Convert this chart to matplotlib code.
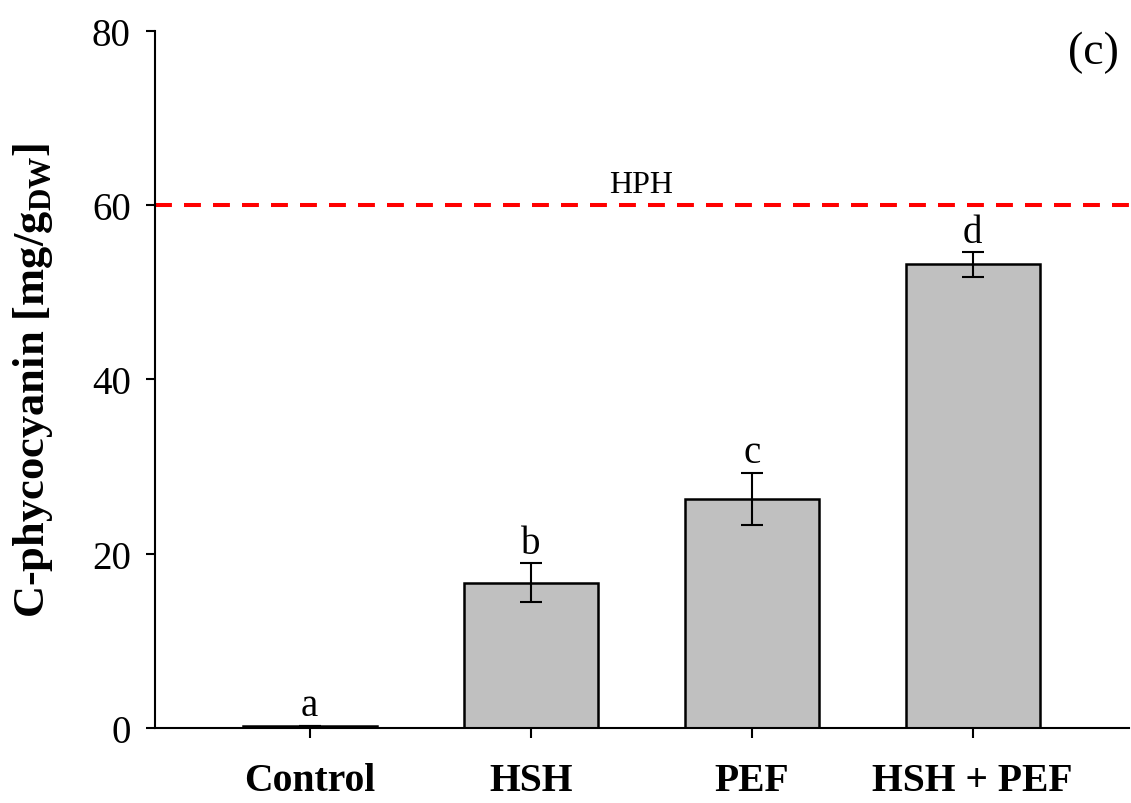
import matplotlib
matplotlib.use("Agg")
import matplotlib.pyplot as plt

# 数据
groups = ["Control", "HSH", "PEF", "HSH + PEF"]
values = [0.25, 16.7, 26.3, 53.2]
errors = [0.05, 2.2, 3.0, 1.4]
letters = ["a", "b", "c", "d"]
hph_level = 60

plt.rcParams["font.family"] = ["Liberation Serif", "DejaVu Serif"]
plt.rcParams["mathtext.fontset"] = "custom"
plt.rcParams["mathtext.rm"] = "Liberation Serif"
plt.rcParams["mathtext.bf"] = "Liberation Serif:bold"

fig = plt.figure(figsize=(11.31, 8.04), dpi=100)
ax = fig.add_axes([0.137, 0.093, 0.861, 0.8675])

x = range(len(groups))
ax.bar(x, values, width=0.606, color="#c0c0c0", edgecolor="black",
       linewidth=1.8, zorder=2)
ax.errorbar(x, values, yerr=errors, fmt="none", ecolor="black",
            elinewidth=1.5, capsize=8, capthick=1.5, zorder=3)

# 显著性字母
for i, (v, e, s) in enumerate(zip(values, errors, letters)):
    ax.annotate(s, (i, v + e), xytext=(0, 1), textcoords="offset points",
                ha="center", va="bottom", fontsize=28)

# HPH 参考线
ax.axhline(hph_level, color="red", linestyle=(0, (4.2, 3)), linewidth=2.9,
           zorder=1)
ax.text(1.5, hph_level + 0.7, "HPH", ha="center", va="bottom", fontsize=23)

ax.text(0.99, 0.9695, "(c)", transform=ax.transAxes, ha="right",
        va="center", fontsize=33)

ax.set_xlim(-0.70, 3.706)
ax.set_ylim(0, 80)
ax.set_yticks([0, 20, 40, 60, 80])
ax.set_xticks(list(x))
ax.set_xticklabels(groups, fontweight="bold", fontsize=28.5)

for lab in ax.get_yticklabels():
    lab.set_fontsize(28)

ax.tick_params(axis="y", direction="out", length=6.5, width=1.5, pad=11)
ax.tick_params(axis="x", direction="out", length=7, width=1.5, pad=17)

ax.spines["top"].set_visible(False)
ax.spines["right"].set_visible(False)
ax.spines["left"].set_linewidth(1.5)
ax.spines["bottom"].set_linewidth(1.5)

ax.set_ylabel(r"C-phycocyanin [mg/g$_{\mathbf{DW}}$]", fontweight="bold",
              fontsize=32)
ax.yaxis.set_label_coords(-0.103, 0.5)

plt.savefig("out.png", dpi=100)
plt.close(fig)
